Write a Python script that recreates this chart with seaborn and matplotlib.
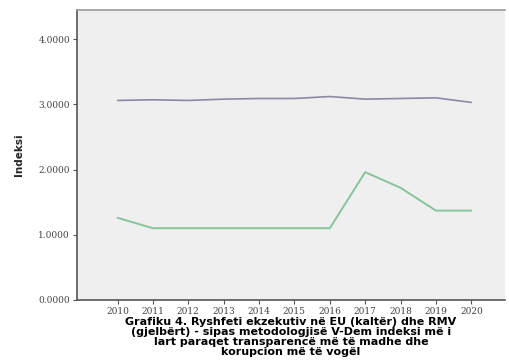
import seaborn as sns
import matplotlib.pyplot as plt
import pandas as pd

years = [2010, 2011, 2012, 2013, 2014, 2015, 2016, 2017, 2018, 2019, 2020]
eu_values = [3.06, 3.07, 3.06, 3.08, 3.09, 3.09, 3.12, 3.08, 3.09, 3.10, 3.03]
rmv_values = [1.26, 1.10, 1.10, 1.10, 1.10, 1.10, 1.10, 1.96, 1.72, 1.37, 1.37]
y_ticks = [0, 1, 2, 3, 4]
y_tick_labels = ["0.0000", "1.0000", "2.0000", "3.0000", "4.0000"]
title = ("Grafiku 4. Ryshfeti ekzekutiv në EU (kaltër) dhe RMV\n"
         "(gjelbërt) - sipas metodologjisë V-Dem indeksi më i\n"
         "lart paraqet transparencë më të madhe dhe\n"
         "korupcion më të vogël")

df = pd.DataFrame({"year": years, "EU": eu_values, "RMV": rmv_values})

sns.set_style("white")
fig = plt.figure(figsize=(5.09, 3.64), dpi=100)
ax = fig.add_axes([0.151, 0.176, 0.841, 0.797])
ax.set_facecolor("#efefef")

sns.lineplot(data=df, x="year", y="EU", color="#8a8aa6", linewidth=1.2, ax=ax)
sns.lineplot(data=df, x="year", y="RMV", color="#86c49a", linewidth=1.4, ax=ax)

ax.set_xlim(2008.85, 2020.95)
ax.set_ylim(0, 4.45)
ax.set_xticks(years)
ax.set_xticklabels([str(y) for y in years], fontsize=6.5, family="DejaVu Serif", color="#444444")
ax.set_yticks(y_ticks)
ax.set_yticklabels(y_tick_labels, fontsize=6.5, family="DejaVu Serif", color="#444444")
ax.tick_params(axis="both", direction="out", length=3, width=0.8, color="#555555", pad=2,
               bottom=True, left=True)

ax.set_ylabel("Indeksi", fontsize=7.5, fontweight="bold", labelpad=10)
ax.set_xlabel(title, fontsize=8.0, fontweight="bold", linespacing=0.98, labelpad=1, color="black")

for s in ["left", "bottom"]:
    ax.spines[s].set_color("#555555")
    ax.spines[s].set_linewidth(1.2)
ax.spines["top"].set_color("#999999")
ax.spines["top"].set_linewidth(1.2)
ax.spines["right"].set_visible(False)

fig.savefig("out.png", dpi=100)
